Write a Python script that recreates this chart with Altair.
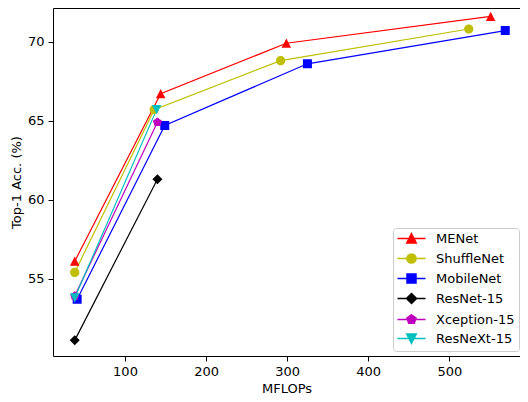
import altair as alt
import pandas as pd

series = ["MENet", "ShuffleNet", "MobileNet", "ResNet-15", "Xception-15", "ResNeXt-15"]
colors = ["#ff0000", "#bfbf00", "#0000ff", "#000000", "#bf00bf", "#00bfbf"]

menet_x = [38, 144, 299, 551]
menet_y = [56.1, 66.7, 69.9, 71.6]
shuffle_x = [38, 136, 292, 524]
shuffle_y = [55.4, 65.7, 68.8, 70.8]
mobile_x = [41, 149, 325, 569]
mobile_y = [53.7, 64.7, 68.6, 70.7]
resnet_x = [38, 140]
resnet_y = [51.1, 61.3]
xception_x = [38, 140]
xception_y = [53.9, 64.9]
resnext_x = [38, 139]
resnext_y = [53.8, 65.7]

x_ticks = [100, 200, 300, 400, 500]
y_ticks = [55, 60, 65, 70]

xs = [menet_x, shuffle_x, mobile_x, resnet_x, xception_x, resnext_x]
ys = [menet_y, shuffle_y, mobile_y, resnet_y, xception_y, resnext_y]
rows = []
for name, sx, sy in zip(series, xs, ys):
    for a, b in zip(sx, sy):
        rows.append({"series": name, "mflops": a, "acc": b})
df = pd.DataFrame(rows)

# marker shapes (matplotlib-like) with a legend line segment (invisible on filled marks)
seg = "M-2.8,0L2.8,0"
shapes = [
    seg + "M0,-0.95L0.95,0.9L-0.95,0.9Z",
    seg + "M0.92,0A0.92,0.92,0,1,1,-0.92,0A0.92,0.92,0,1,1,0.92,0Z",
    seg + "M-0.9,-0.9L0.9,-0.9L0.9,0.9L-0.9,0.9Z",
    seg + "M0,-1L1,0L0,1L-1,0Z",
    seg + "M0,-0.95L0.9035,-0.2936L0.5584,0.7686L-0.5584,0.7686L-0.9035,-0.2936Z",
    seg + "M0,0.95L0.95,-0.9L-0.95,-0.9Z",
]

xscale = alt.Scale(domain=[11.2, 587.2], nice=False, zero=False)
yscale = alt.Scale(domain=[50.11, 72.13], nice=False, zero=False)

cscale = alt.Scale(domain=series, range=colors)
sscale = alt.Scale(domain=series, range=shapes)

leg = alt.Legend(title=None, orient="none", legendX=340, legendY=220)

base = alt.Chart(df)

lines = base.mark_line(strokeWidth=1.2).encode(
    x=alt.X("mflops:Q", scale=xscale, axis=alt.Axis(values=x_ticks, title="MFLOPs")),
    y=alt.Y("acc:Q", scale=yscale, axis=alt.Axis(values=y_ticks, title="Top-1 Acc. (%)")),
    color=alt.Color("series:N", scale=cscale, legend=None),
    detail="series:N",
)
points = base.mark_point(filled=True, size=100, opacity=1).encode(
    x=alt.X("mflops:Q", scale=xscale, axis=None),
    y=alt.Y("acc:Q", scale=yscale, axis=None),
    color=alt.Color("series:N", scale=cscale, legend=None),
    shape=alt.Shape("series:N", scale=sscale, legend=None),
)
legend_layer = base.transform_filter("false").mark_point(
    filled=True, size=100, opacity=1, strokeWidth=1.5
).encode(
    x=alt.X("mflops:Q", scale=xscale,
            axis=alt.Axis(orient="top", labels=False, ticks=False, title=None, domain=True)),
    y=alt.Y("acc:Q", scale=yscale, axis=None),
    color=alt.Color("series:N", scale=cscale, legend=leg),
    stroke=alt.Stroke("series:N", scale=cscale, legend=leg),
    shape=alt.Shape("series:N", scale=sscale, legend=leg),
)

chart = alt.layer(lines, points, legend_layer).resolve_legend(
    color="independent", stroke="independent", shape="independent"
).resolve_axis(x="independent", y="independent").properties(
    width=467, height=348,
    autosize=alt.AutoSizeParams(type="none"),
    padding={"left": 45, "top": 0, "right": 0, "bottom": 38},
).configure(
    font="DejaVu Sans",
).configure_view(
    stroke=None,
).configure_axis(
    grid=False, domainColor="#000000", tickColor="#000000", labelColor="#000000",
    titleColor="#000000", labelFont="DejaVu Sans", titleFont="DejaVu Sans",
    labelFontSize=13, titleFontSize=13, titleFontWeight="normal",
    tickSize=5, labelPadding=4, titlePadding=4, domainWidth=1, tickWidth=1,
).configure_legend(
    padding=4, strokeColor="#cccccc", fillColor="rgba(255,255,255,0.8)",
    cornerRadius=3, symbolOffset=8, labelOffset=18, rowPadding=4,
    labelFont="DejaVu Sans", labelFontSize=13, labelColor="#000000",
    symbolSize=100, symbolStrokeWidth=1.5, labelLimit=200,
)

chart.save("out.html", embed_options={"renderer": "svg", "actions": False})
